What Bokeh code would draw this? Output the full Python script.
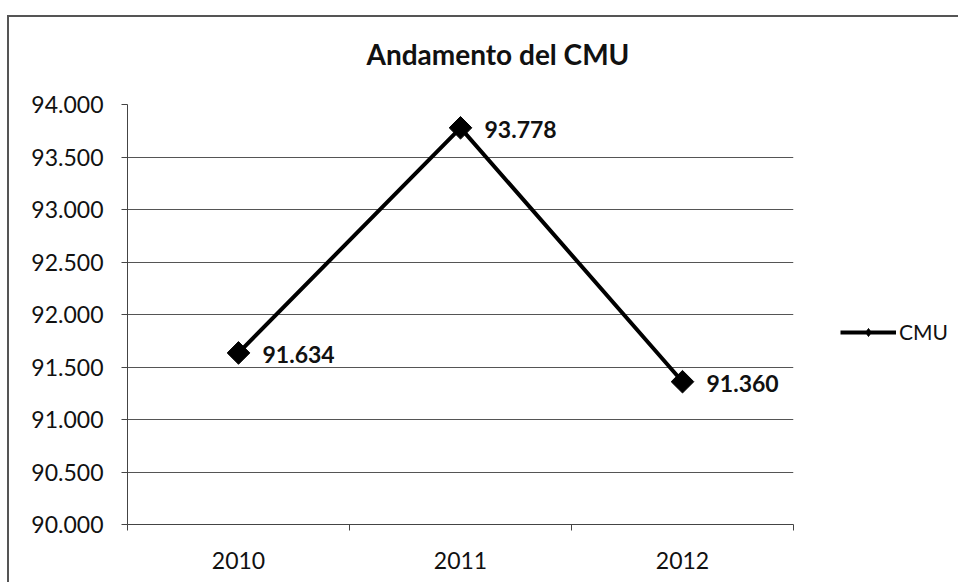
import math
from bokeh.plotting import figure
from bokeh.models import (ColumnDataSource, FixedTicker, LinearAxis, CustomJSTickFormatter,
                          Legend, LegendItem, Range1d, Grid)
from bokeh.core.properties import value
from bokeh.embed import file_html
from bokeh.resources import INLINE

years = ["2010", "2011", "2012"]
cmu = [91634, 93778, 91360]
y_ticks = [90000, 90500, 91000, 91500, 92000, 92500, 93000, 93500, 94000]
title_text = "Andamento del CMU"
series_name = "CMU"

FONT = "Lato"

xs = [i + 0.5 for i in range(len(years))]
labels = [f"{v:,}".replace(",", ".") for v in cmu]
src = ColumnDataSource(dict(x=xs, y=cmu, lab=labels))

p = figure(frame_width=666, frame_height=420, output_backend="svg", toolbar_location=None,
           x_range=Range1d(0, len(years)), y_range=Range1d(y_ticks[0], y_ticks[-1]),
           min_border_left=127, min_border_right=160, min_border_top=104, min_border_bottom=58,
           x_axis_type=None, y_axis_type=None)
p.outline_line_color = None
p.background_fill_color = "white"
p.border_fill_alpha = 0
p.styles = {
    "background": ("linear-gradient(#555,#555) 7px 15px / 2px 100% no-repeat, "
                   "linear-gradient(#555,#555) 7px 15px / 100% 2px no-repeat, #ffffff"),
}

p.title.text = title_text
p.title.align = "left"
p.title.offset = 239
p.title.text_font = FONT
p.title.text_font_size = "28px"
p.title.text_font_style = "bold"
p.title.text_color = "#111111"
p.title.standoff = 68

# y axis
yax = LinearAxis(ticker=FixedTicker(ticks=y_ticks))
yax.formatter = CustomJSTickFormatter(code="""
return String(Math.round(tick)).replace(/\\B(?=(\\d{3})+(?!\\d))/g, '.');
""")
yax.axis_line_color = "#444444"
yax.major_tick_line_color = "#444444"
yax.major_tick_out = 6
yax.major_tick_in = 0
yax.minor_tick_line_color = None
yax.major_label_text_font = FONT
yax.major_label_text_font_size = "23px"
yax.major_label_text_color = "#111111"
yax.major_label_standoff = 18
p.add_layout(yax, "left")

# x axis: ticks between categories
xax = LinearAxis(ticker=FixedTicker(ticks=list(range(len(years) + 1))))
xax.major_label_overrides = {i: "" for i in range(len(years) + 1)}
xax.axis_line_color = "#444444"
xax.major_tick_line_color = "#444444"
xax.major_tick_out = 6
xax.major_tick_in = 0
xax.minor_tick_line_color = None
p.add_layout(xax, "below")

# category labels on an overlaid axis at centers
xax2 = LinearAxis(ticker=FixedTicker(ticks=xs))
xax2.major_label_overrides = {x: y for x, y in zip(xs, years)}
xax2.axis_line_color = None
xax2.major_tick_line_color = None
xax2.minor_tick_line_color = None
xax2.major_label_text_font = FONT
xax2.major_label_text_font_size = "23px"
xax2.major_label_text_color = "#111111"
xax2.major_label_standoff = 15
p.add_layout(xax2, "below")

p.ygrid.visible = False
p.xgrid.visible = False
g = Grid(dimension=1, ticker=yax.ticker, grid_line_color="#555555", grid_line_width=1)
p.add_layout(g)

ln = p.line("x", "y", source=src, line_color="black", line_width=4)
# small diamonds used for the legend symbol (hidden under the big markers)
mk_leg = p.scatter("x", "y", source=src, marker="diamond", size=15,
                   fill_color="black", line_color="black")
mk = p.scatter("x", "y", source=src, marker="square", angle=math.pi / 4, size=16,
               fill_color="black", line_color="black")
p.text("x", "y", text="lab", source=src, x_offset=24, y_offset=2, text_align="left",
       text_baseline="middle", text_font=value(FONT), text_font_style="bold",
       text_font_size="23px", text_color="#111111")

leg = Legend(items=[LegendItem(label=series_name, renderers=[ln, mk_leg])],
             location=(47, 180), border_line_color=None, background_fill_alpha=0,
             glyph_width=56, glyph_height=20, label_standoff=3, label_text_font=FONT,
             label_text_font_size="21px", label_text_color="#111111", padding=0, margin=0,
             label_height=20)
p.add_layout(leg, "right")

open("out.html", "w").write(file_html(p, INLINE))
